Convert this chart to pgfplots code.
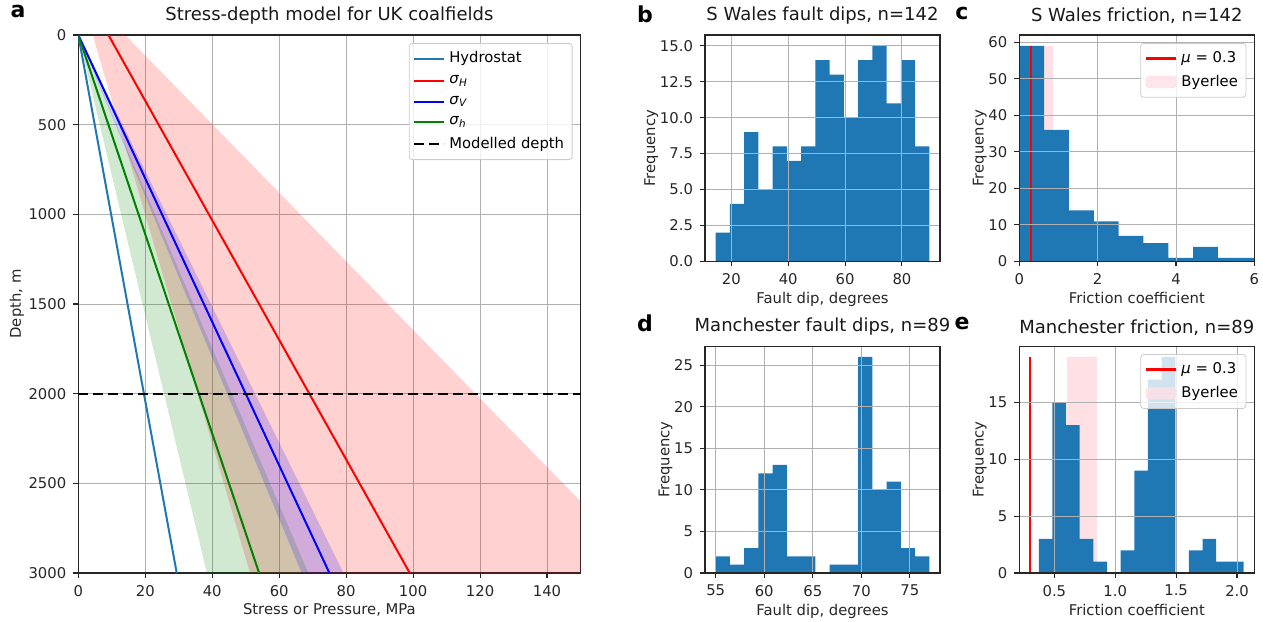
\documentclass[border=0pt]{standalone}
\usepackage{fontspec}
\setmainfont{DejaVu Sans}
\usepackage{pgfplots}
\pgfplotsset{compat=1.18}
\definecolor{tabblue}{HTML}{1F77B4}
\definecolor{mplgreen}{RGB}{0,128,0}
\definecolor{byer}{RGB}{255,224,229}
\definecolor{gridgray}{HTML}{B0B0B0}

\pgfplotsset{
  panel/.style={
    scale only axis, anchor=south west,
    axis line style={black!85, line width=0.55pt},
    grid=major, major grid style={gridgray, line width=0.45pt},
    tick align=outside, xtick pos=bottom, ytick pos=left,
    major tick length=2.5pt,
    every tick/.style={black!85, line width=0.55pt},
    tick label style={font=\fontsize{7.4}{8.5}\selectfont, text=black!85},
    label style={font=\fontsize{7.4}{8.5}\selectfont, text=black!85},
    xlabel shift=-3pt,
    title style={font=\fontsize{9}{10.5}\selectfont, text=black!90, yshift=-4pt},
    /pgf/number format/assume math mode=true,
    /pgf/number format/1000 sep={},
    legend cell align=left,
    legend image code/.code={\draw[##1] (0pt,0pt) -- (15pt,0pt);},
    legend style={at={(rel axis cs:1,1)}, anchor=north east, xshift=-4pt, yshift=-4pt,
      draw=black!20, rounded corners=1.5pt, fill=white, fill opacity=0.8, text opacity=1,
      font=\fontsize{7.4}{8.5}\selectfont, inner sep=2pt, row sep=0.8pt},
  },
  hist/.style={panel, axis on top, ymin=0, ylabel={Frequency}, ylabel shift=-6pt},
  top row/.style={width=117.5pt, height=113.25pt},
  bottom row/.style={width=117.5pt, height=113.4pt},
}

\begin{document}
\begin{tikzpicture}
\path[use as bounding box] (0,0) rectangle (631.5pt,310.5pt);

% panel a: stress-depth model
\begin{axis}[panel, at={(39.15pt,24pt)}, width=251.1pt, height=269pt,
  xmin=0, xmax=150, ymin=0, ymax=3000, y dir=reverse,
  xtick={0,20,...,140}, ytick={0,500,...,3000},
  title={Stress-depth model for UK coalfields},
  xlabel={Stress or Pressure, MPa}, ylabel={Depth, m}, ylabel shift=-4.5pt]
\addplot[forget plot, draw=none, fill=red, fill opacity=0.18]
  coordinates {(4.3,0) (14,0) (150,2600) (150,3000) (51.3,3000)} -- cycle;
\addplot[forget plot, draw=none, fill=mplgreen, fill opacity=0.18]
  coordinates {(0,0) (68.7,3000) (38.4,3000)} -- cycle;
\addplot[forget plot, draw=none, fill=blue, fill opacity=0.18]
  coordinates {(0,0) (79.2,3000) (66.7,3000)} -- cycle;
\addplot[tabblue, line width=1pt] coordinates {(0,0) (29.4,3000)};
\addlegendentry{Hydrostat}
\addplot[red, line width=1pt] coordinates {(9,0) (99,3000)};
\addlegendentry{\textit{σ}\textsubscript{\textit{H}}}
\addplot[blue, line width=1pt] coordinates {(0,0) (75,3000)};
\addlegendentry{\textit{σ}\textsubscript{\textit{V}}}
\addplot[mplgreen, line width=1pt] coordinates {(0,0) (54,3000)};
\addlegendentry{\textit{σ}\textsubscript{\textit{h}}}
\addplot[black, line width=1pt, dash pattern=on 5pt off 2.5pt] coordinates {(0,2000) (150,2000)};
\addlegendentry{Modelled depth}
\end{axis}

% panel b
\begin{axis}[hist, top row, at={(352.5pt,179.75pt)},
  xmin=10.74, xmax=93.4, ymax=15.75,
  xtick={20,40,60,80}, ytick={0,2.5,...,15},
  yticklabel style={/pgf/number format/.cd, fixed, fixed zerofill, precision=1},
  title={S Wales fault dips, n=142}, xlabel={Fault dip, degrees}]
\addplot[forget plot, ybar interval, fill=tabblue, draw=none] coordinates {
  (14.5,2) (19.51,4) (24.52,9) (29.53,5) (34.54,8) (39.55,7) (44.56,8) (49.57,14)
  (54.58,13) (59.59,10) (64.6,14) (69.61,15) (74.62,11) (79.63,14) (84.64,8) (89.65,0)};
\end{axis}

% panel c
\begin{axis}[hist, top row, at={(509.65pt,179.75pt)},
  xmin=0, xmax=6, ymax=61.95,
  xtick={0,2,4,6}, ytick={0,10,...,60},
  title={S Wales friction, n=142}, xlabel={Friction coefficient}]
\addplot[forget plot, draw=none, fill=byer] coordinates {(0.6,0) (0.85,0) (0.85,59) (0.6,59)} -- cycle;
\addplot[forget plot, ybar interval, fill=tabblue, draw=none] coordinates {
  (0,59) (0.634,36) (1.268,14) (1.902,11) (2.536,7) (3.17,5) (3.804,1) (4.438,4)
  (5.072,1) (5.706,1) (6.34,0)};
\addplot[forget plot, red, line width=1.4pt] coordinates {(0.3,0) (0.3,59)};
\addlegendimage{red, line width=1.4pt}
\addlegendentry{\textit{μ} = 0.3}
\addlegendimage{legend image code/.code={\fill[byer] (0pt,-2.8pt) rectangle (15pt,2.8pt);}}
\addlegendentry{Byerlee}
\end{axis}

% panel d
\begin{axis}[hist, bottom row, at={(352.5pt,24pt)},
  xmin=53.9, xmax=78.1, ymax=27.3,
  xtick={55,60,...,75}, ytick={0,5,...,25},
  title={Manchester fault dips, n=89}, xlabel={Fault dip, degrees}]
\addplot[forget plot, ybar interval, fill=tabblue, draw=none] coordinates {
  (55,2) (56.467,1) (57.933,3) (59.4,12) (60.867,13) (62.333,2) (63.8,2) (65.267,0)
  (66.733,1) (68.2,1) (69.667,26) (71.133,10) (72.6,11) (74.067,3) (75.533,2) (77,0)};
\end{axis}

% panel e
\begin{axis}[hist, bottom row, at={(509.65pt,24pt)},
  xmin=0.212, xmax=2.142, ymax=19.95,
  xtick={0.5,1,1.5,2}, ytick={0,5,10,15},
  xticklabel style={/pgf/number format/.cd, fixed, fixed zerofill, precision=1},
  title={Manchester friction, n=89}, xlabel={Friction coefficient}]
\addplot[forget plot, draw=none, fill=byer] coordinates {(0.6,0) (0.85,0) (0.85,19) (0.6,19)} -- cycle;
\addplot[forget plot, ybar interval, fill=tabblue, draw=none] coordinates {
  (0.372,3) (0.4841,15) (0.5962,13) (0.7083,3) (0.8204,1) (0.9325,0) (1.0446,2) (1.1567,9)
  (1.2688,17) (1.3809,19) (1.493,0) (1.6051,2) (1.7172,3) (1.8293,1) (1.9414,1) (2.0535,0)};
\addplot[forget plot, red, line width=1.4pt] coordinates {(0.3,0) (0.3,19)};
\addlegendimage{red, line width=1.4pt}
\addlegendentry{\textit{μ} = 0.3}
\addlegendimage{legend image code/.code={\fill[byer] (0pt,-2.8pt) rectangle (15pt,2.8pt);}}
\addlegendentry{Byerlee}
\end{axis}

% panel letters
\node[font=\bfseries\fontsize{11}{13}\selectfont] at (9pt,304.5pt) {a};
\node[font=\bfseries\fontsize{11}{13}\selectfont] at (322.5pt,303.5pt) {b};
\node[font=\bfseries\fontsize{11}{13}\selectfont] at (481pt,303.5pt) {c};
\node[font=\bfseries\fontsize{11}{13}\selectfont] at (322.5pt,149pt) {d};
\node[font=\bfseries\fontsize{11}{13}\selectfont] at (481pt,149pt) {e};
\end{tikzpicture}
\end{document}
